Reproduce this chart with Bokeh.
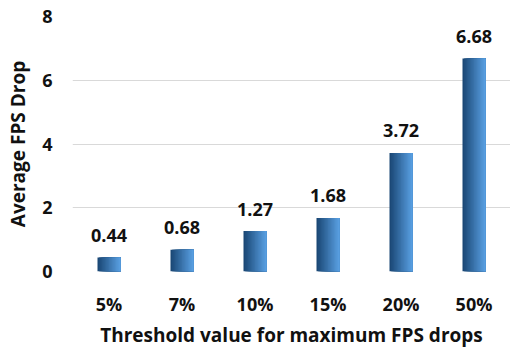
from bokeh.plotting import figure
from bokeh.models import ColumnDataSource, FixedTicker, LabelSet, Title
from bokeh.core.properties import value
from bokeh.transform import dodge
from bokeh.embed import file_html
from bokeh.resources import INLINE

thresholds = ["5%", "7%", "10%", "15%", "20%", "50%"]
avg_drop = [0.44, 0.68, 1.27, 1.68, 3.72, 6.68]
value_labels = ["0.44", "0.68", "1.27", "1.68", "3.72", "6.68"]

FONT = "Open Sans"

p = figure(x_range=thresholds, y_range=(0, 8), width=510, height=348,
           output_backend="svg", toolbar_location=None,
           min_border_left=72, min_border_right=0, min_border_top=16,
           min_border_bottom=77)
p.outline_line_color = None
p.background_fill_color = "white"
p.border_fill_color = "white"

src = ColumnDataSource(dict(cat=thresholds, val=avg_drop, lab=value_labels))

# bars shaded dark-to-light from left to right: nested slices that all end
# at the bar's right edge, each one starting a little further right
bar_w = 0.315
n = 16
c0 = (0x1b, 0x48, 0x76)
c1 = (0x58, 0x9e, 0xe0)
for i in range(n):
    t = i / (n - 1)
    col = "#%02x%02x%02x" % tuple(int(round(a + (b - a) * t)) for a, b in zip(c0, c1))
    left = -bar_w / 2 + i * bar_w / n
    right = bar_w / 2
    p.vbar(x=dodge("cat", (left + right) / 2, range=p.x_range), top="val",
           width=right - left, source=src, fill_color=col, line_color=None)

labels = LabelSet(x="cat", y="val", text="lab", source=src, text_align="center",
                  text_baseline="middle", y_offset=22, text_font=value(FONT),
                  text_font_style="bold", text_font_size="18px", text_color="#111111")
p.add_layout(labels)

p.yaxis.ticker = FixedTicker(ticks=[0, 2, 4, 6, 8])
p.ygrid.ticker = FixedTicker(ticks=[0, 2, 4, 6, 8])
p.xgrid.grid_line_color = None
p.ygrid.grid_line_color = "#d9d9d9"
p.ygrid.grid_line_width = 1.2

for ax in (p.xaxis[0], p.yaxis[0]):
    ax.axis_line_color = None
    ax.major_tick_line_color = None
    ax.minor_tick_line_color = None
    ax.major_tick_out = 0
    ax.major_tick_in = 0
    ax.major_label_text_font = FONT
    ax.major_label_text_font_style = "bold"
    ax.major_label_text_color = "#111111"
    ax.axis_label_text_font = FONT
    ax.axis_label_text_font_style = "bold"
    ax.axis_label_text_color = "#111111"

p.xaxis.major_label_text_font_size = "18px"
p.xaxis.major_label_standoff = 20

# x-axis title placed in the bottom panel, centred under the plot area
x_title = Title(text="Threshold value for maximum FPS drops", align="center",
                text_font=FONT, text_font_style="bold", text_font_size="19px",
                text_color="#111111", standoff=2, offset=0)
p.add_layout(x_title, "below")

p.yaxis.axis_label = "Average FPS Drop"
p.yaxis.major_label_text_font_size = "18px"
p.yaxis.axis_label_text_font_size = "19px"
p.yaxis.major_label_standoff = 20
p.yaxis.axis_label_standoff = 8

open("out.html", "w").write(file_html(p, INLINE))
